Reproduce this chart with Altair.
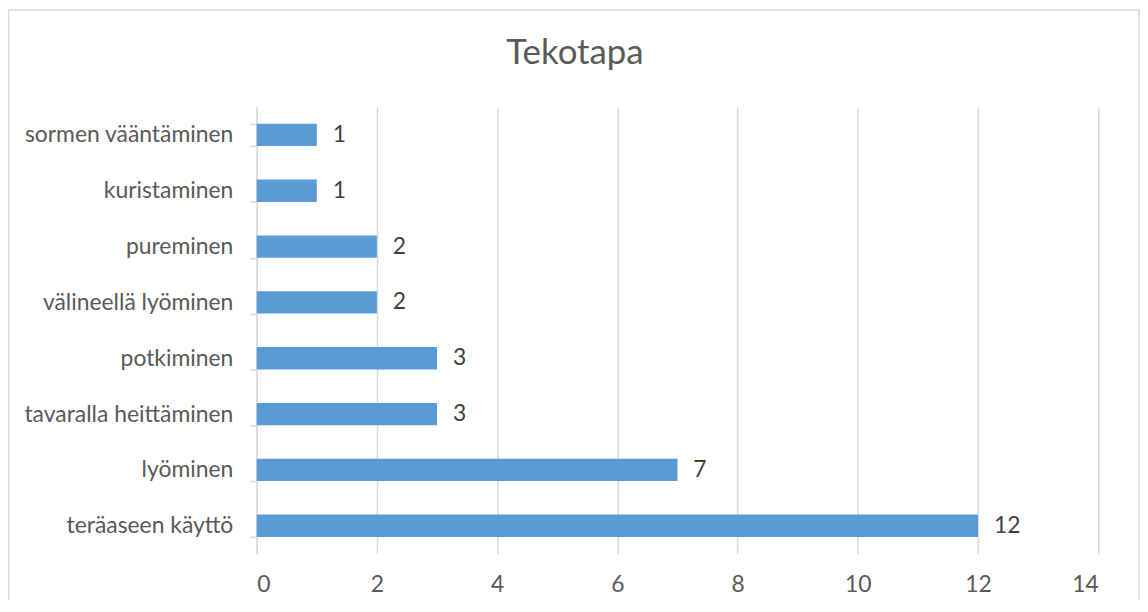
import altair as alt
import pandas as pd

categories = ["sormen vääntäminen", "kuristaminen", "pureminen", "välineellä lyöminen",
              "potkiminen", "tavaralla heittäminen", "lyöminen", "teräaseen käyttö"]
values = [1, 1, 2, 2, 3, 3, 7, 12]
x_ticks = [0, 2, 4, 6, 8, 10, 12, 14]
title_text = "Tekotapa"

df = pd.DataFrame({"tapa": categories, "lkm": values})

FONT = "Lato"
GRID = "#d9d9d9"
W, H = 846, 449
FS = 23

y_enc = alt.Y(
    "tapa:N", sort=categories, title=None,
    scale=alt.Scale(paddingInner=0.6, paddingOuter=0.3),
    axis=alt.Axis(tickBand="extent", tickSize=7, tickColor=GRID, tickWidth=1.5,
                  domainColor=GRID, domainWidth=1.5, labelFont=FONT, labelFontSize=FS,
                  labelColor="#595959", labelPadding=17, labelLimit=400, grid=False),
)
x_enc = alt.X(
    "lkm:Q", title=None,
    scale=alt.Scale(domain=[0, 14], nice=False),
    axis=alt.Axis(values=x_ticks, format="d", domain=False, ticks=False, grid=True,
                  gridColor=GRID, gridWidth=1.5, labelFont=FONT, labelFontSize=FS,
                  labelColor="#595959", labelPadding=20),
)

base = alt.Chart(df)
bars = base.mark_bar(color="#5b9bd5").encode(x=x_enc, y=y_enc)
labels = base.mark_text(align="left", baseline="middle", dx=16, font=FONT, fontSize=FS,
                        color="#404040").encode(x="lkm:Q", y=alt.Y("tapa:N", sort=categories),
                                                text="lkm:Q")

border = alt.Chart(alt.Data(values=[{"b": 1}])).mark_rect(
    fillOpacity=0, stroke=GRID, strokeWidth=1.5, clip=False
).encode(x=alt.value(-249.5), x2=alt.value(W + 41), y=alt.value(-97.5), y2=alt.value(H + 70))

title = alt.Chart(alt.Data(values=[{"t": title_text}])).mark_text(
    align="center", baseline="alphabetic", font=FONT, fontSize=35, color="#595959"
).encode(x=alt.value(320), y=alt.value(-43), text="t:N")

chart = alt.layer(bars, labels, border, title).properties(
    width=W, height=H,
    autosize=alt.AutoSizeParams(type="none"),
    padding={"left": 250, "top": 98, "right": 42, "bottom": 45},
).configure_view(stroke=None)

chart.save("out.html", embed_options={"renderer": "svg", "actions": False})
